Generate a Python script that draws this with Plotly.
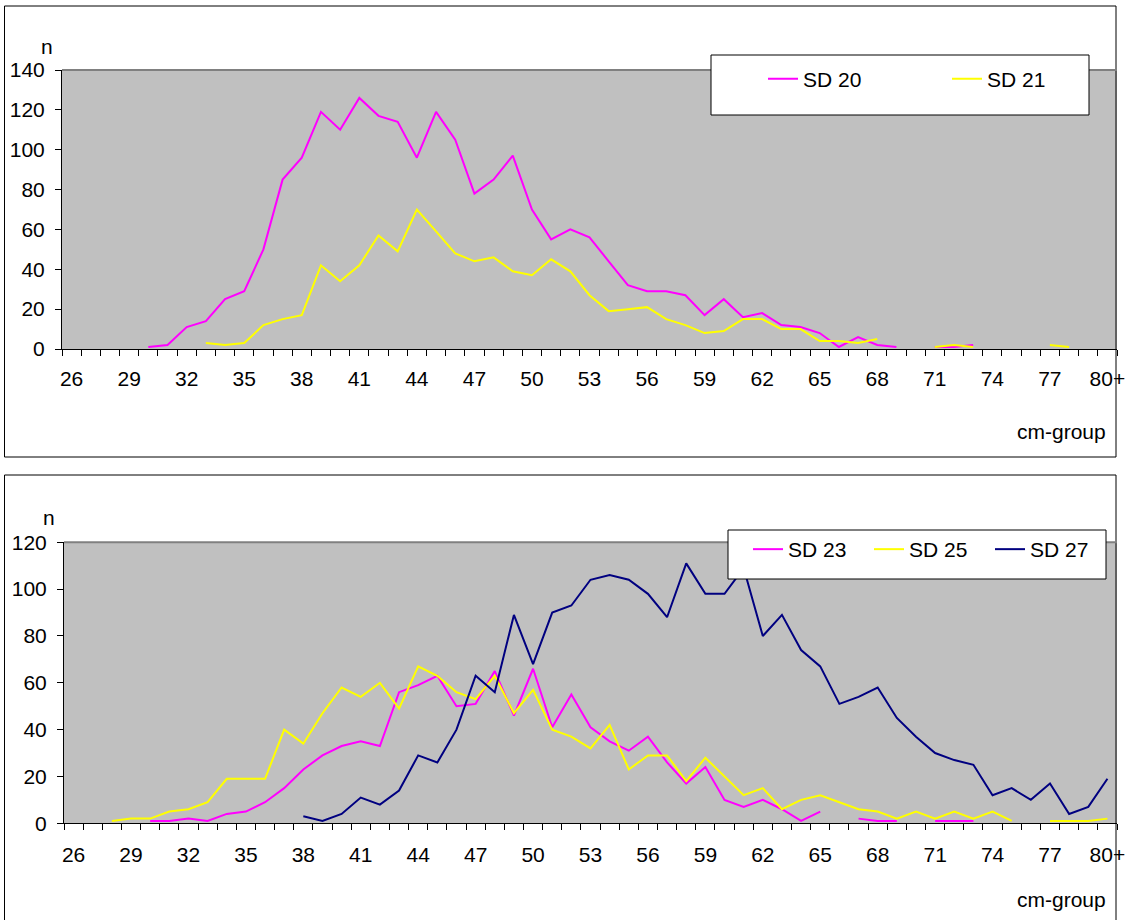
import plotly.graph_objects as go

# Length classes (cm-group); the last class collects 80 cm and above
cm_group = list(range(26, 81))
tick_values = [26, 29, 32, 35, 38, 41, 44, 47, 50, 53, 56, 59, 62, 65, 68, 71, 74, 77, 80]
tick_labels = ["26", "29", "32", "35", "38", "41", "44", "47", "50", "53",
               "56", "59", "62", "65", "68", "71", "74", "77", "80+"]

N = None
# Upper panel: numbers per cm-group, 26 ... 80+
sd20 = [N, N, N, N, 1, 2, 11, 14, 25, 29, 50, 85, 96, 119, 110, 126, 117, 114, 96, 119,
        105, 78, 85, 97, 70, 55, 60, 56, 44, 32, 29, 29, 27, 17, 25, 16, 18, 12, 11, 8,
        1, 6, 2, 1, N, 1, 1, 2, N, N, N, N, N, N, N]
sd21 = [N, N, N, N, N, N, N, 3, 2, 3, 12, 15, 17, 42, 34, 42, 57, 49, 70, 59,
        48, 44, 46, 39, 37, 45, 39, 27, 19, 20, 21, 15, 12, 8, 9, 15, 15, 10, 10, 4,
        4, 3, 5, N, N, 1, 2, 1, N, N, N, 2, 1, N, N]

# Lower panel
sd23 = [N, N, N, N, 1, 1, 2, 1, 4, 5, 9, 15, 23, 29, 33, 35, 33, 56, 59, 63,
        50, 51, 65, 46, 66, 41, 55, 41, 35, 31, 37, 26, 17, 24, 10, 7, 10, 6, 1, 5,
        N, 2, 1, 1, N, 1, 1, 1, N, N, N, N, N, N, N]
sd25 = [N, N, 1, 2, 2, 5, 6, 9, 19, 19, 19, 40, 34, 47, 58, 54, 60, 49, 67, 63,
        56, 53, 63, 47, 57, 40, 37, 32, 42, 23, 29, 29, 18, 28, 20, 12, 15, 6, 10, 12,
        9, 6, 5, 2, 5, 2, 5, 2, 5, 1, N, 1, 1, 1, 2]
sd27 = [N, N, N, N, N, N, N, N, N, N, N, N, 3, 1, 4, 11, 8, 14, 29, 26,
        40, 63, 56, 89, 68, 90, 93, 104, 106, 104, 98, 88, 111, 98, 98, 109, 80, 89, 74, 67,
        51, 54, 58, 45, 37, 30, 27, 25, 12, 15, 10, 17, 4, 7, 19]

MAGENTA = "#FF00FF"
YELLOW = "#FFFF00"
NAVY = "#000080"
FONT = "Arial, Liberation Sans, sans-serif"
FS = 21

W, H = 1126, 920


def px(x):
    return x / W


def py(y):
    return 1 - y / H


fig = go.Figure()

upper = [("SD 20", sd20, MAGENTA), ("SD 21", sd21, YELLOW)]
lower = [("SD 23", sd23, MAGENTA), ("SD 25", sd25, YELLOW), ("SD 27", sd27, NAVY)]

for name, vals, col in upper:
    fig.add_trace(go.Scatter(x=cm_group, y=vals, name=name, mode="lines",
                             line=dict(color=col, width=2), connectgaps=False,
                             xaxis="x", yaxis="y", legend="legend"))
for name, vals, col in lower:
    fig.add_trace(go.Scatter(x=cm_group, y=vals, name=name, mode="lines",
                             line=dict(color=col, width=2), connectgaps=False,
                             xaxis="x2", yaxis="y2", legend="legend2"))

xaxis_common = dict(
    range=[25.5, 80.5], tickmode="array", tickvals=tick_values, ticktext=tick_labels,
    ticks="", showgrid=False, zeroline=False, showline=True, linecolor="black",
    linewidth=1, tickfont=dict(family=FONT, size=FS, color="black"),
    automargin=False,
    minor=dict(tickmode="linear", tick0=25.5, dtick=1, ticks="outside", ticklen=6,
               tickcolor="black", tickwidth=1, showgrid=False),
)
yaxis_common = dict(
    dtick=20, ticks="outside", ticklen=6, tickcolor="black", tickwidth=1,
    showgrid=False, zeroline=False, showline=True, linecolor="black", linewidth=1,
    tickfont=dict(family=FONT, size=FS, color="black"), ticklabelstandoff=6,
    automargin=False,
)

fig.update_layout(
    width=W, height=H, margin=dict(l=0, r=0, t=0, b=0, autoexpand=False),
    paper_bgcolor="white", plot_bgcolor="#C0C0C0",
    font=dict(family=FONT, size=FS, color="black"),
    xaxis=dict(domain=[px(62), px(1117)], anchor="y", ticklabelstandoff=11, **xaxis_common),
    yaxis=dict(domain=[py(349), py(70)], anchor="x", range=[0, 140], **yaxis_common),
    xaxis2=dict(domain=[px(64), px(1117)], anchor="y2", ticklabelstandoff=12, **xaxis_common),
    yaxis2=dict(domain=[py(823.3), py(542.3)], anchor="x2", range=[0, 120], **yaxis_common),
    legend=dict(orientation="h", x=px(763), y=py(79), xanchor="left", yanchor="middle",
                bgcolor="rgba(0,0,0,0)", borderwidth=0, itemwidth=30,
                entrywidth=139, entrywidthmode="pixels",
                font=dict(family=FONT, size=FS, color="black")),
    legend2=dict(orientation="h", x=px(748), y=py(549.5), xanchor="left", yanchor="middle",
                 bgcolor="rgba(0,0,0,0)", borderwidth=0, itemwidth=30,
                 entrywidth=76, entrywidthmode="pixels",
                 font=dict(family=FONT, size=FS, color="black")),
    showlegend=True,
)

shapes = [
    # chart frames
    dict(type="rect", xref="paper", yref="paper", x0=px(4.5), x1=px(1116), y0=py(457), y1=py(6),
         line=dict(color="black", width=1), layer="below"),
    dict(type="rect", xref="paper", yref="paper", x0=px(4.5), x1=px(1116), y0=py(940), y1=py(475),
         line=dict(color="black", width=1), layer="below"),
    # plot-area top edges
    dict(type="line", xref="paper", yref="paper", x0=px(62), x1=px(1117), y0=py(70), y1=py(70),
         line=dict(color="#808080", width=2), layer="above"),
    dict(type="line", xref="paper", yref="paper", x0=px(64), x1=px(1117), y0=py(542.3), y1=py(542.3),
         line=dict(color="#808080", width=2), layer="above"),
    # legend boxes
    dict(type="rect", xref="paper", yref="paper", x0=px(711), x1=px(1089), y0=py(115), y1=py(55),
         line=dict(color="black", width=1), fillcolor="white", layer="above"),
    dict(type="rect", xref="paper", yref="paper", x0=px(728), x1=px(1106), y0=py(579), y1=py(530),
         line=dict(color="black", width=1), fillcolor="white", layer="above"),
]
fig.update_layout(shapes=shapes)

annotations = [
    dict(text="n", x=px(47), y=py(46), xref="paper", yref="paper", showarrow=False,
         xanchor="center", yanchor="middle", font=dict(family=FONT, size=FS)),
    dict(text="n", x=px(49), y=py(517), xref="paper", yref="paper", showarrow=False,
         xanchor="center", yanchor="middle", font=dict(family=FONT, size=FS)),
    dict(text="cm-group", x=px(1108), y=py(432), xref="paper", yref="paper", showarrow=False,
         xanchor="right", yanchor="middle", font=dict(family=FONT, size=FS)),
    dict(text="cm-group", x=px(1108), y=py(899), xref="paper", yref="paper", showarrow=False,
         xanchor="right", yanchor="middle", font=dict(family=FONT, size=FS)),
]
fig.update_layout(annotations=annotations)

fig.write_html("out.html")
